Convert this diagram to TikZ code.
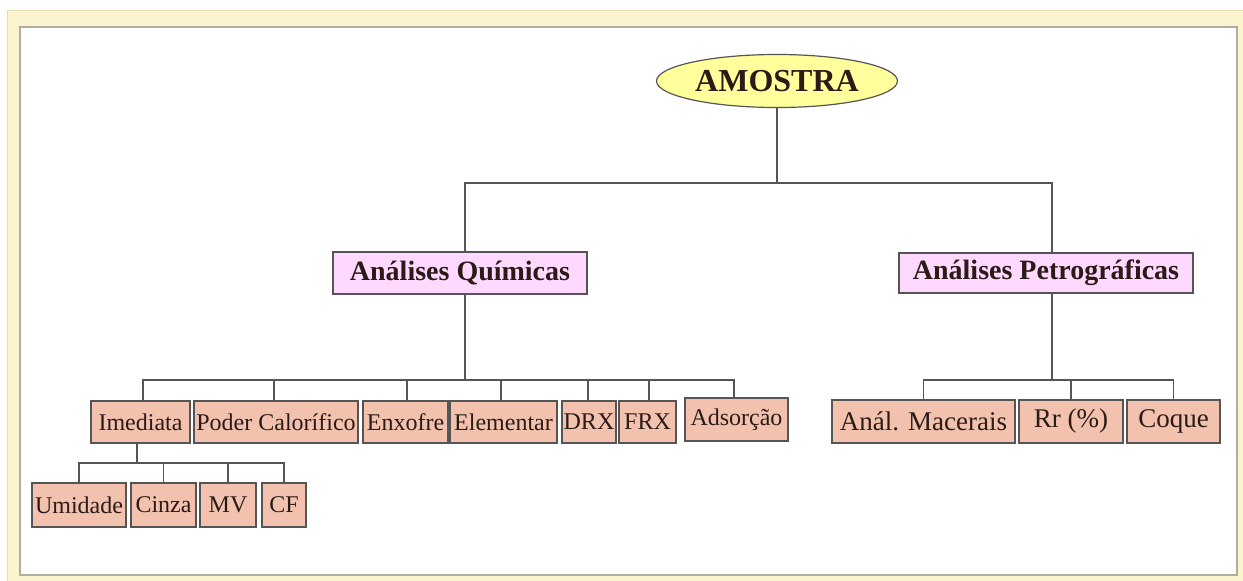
\documentclass[tikz,border=0pt]{standalone}
\usepackage{fontspec}
\setmainfont{Liberation Serif}
\usetikzlibrary{shapes.geometric}
\definecolor{cream}{HTML}{FBF4CF}
\definecolor{creamline}{HTML}{E6DDB0}
\definecolor{frameline}{HTML}{B0AE9C}
\definecolor{salmon}{HTML}{F2C2AF}
\definecolor{pinkbox}{HTML}{FFD8FF}
\definecolor{yell}{HTML}{FFFF9C}
\definecolor{ink}{HTML}{2B1B17}
\definecolor{edge}{HTML}{555555}
\tikzset{
  conn/.style={draw=edge, line width=1.5pt},
  leaf/.style={draw=edge, line width=1.2pt, fill=salmon, text=ink, inner sep=0pt,
    font=\fontsize{24}{26}\selectfont, minimum height=42pt},
  leafp/.style={leaf, font=\fontsize{27}{30}\selectfont, minimum height=43pt},
  head/.style={draw=edge, line width=1.2pt, fill=pinkbox, text=ink, inner sep=0pt,
    font=\fontsize{28}{30}\selectfont\bfseries},
  root/.style={ellipse, draw=edge, line width=1.2pt, fill=yell, text=ink, inner sep=0pt,
    font=\fontsize{32}{34}\selectfont\bfseries}
}
\begin{document}
\begin{tikzpicture}[x=1pt,y=-1pt]
\useasboundingbox (0,0) rectangle (1243,581);
% frame
\fill[white] (0,0) rectangle (1243,581);
\fill[cream] (7,10) rectangle (1243,581);
\draw[creamline, line width=1pt] (7.5,581) -- (7.5,10.5) -- (1243,10.5);
\fill[white] (20,27) rectangle (1237,575);
\draw[frameline, line width=1.5pt] (20,27) rectangle (1237,575);
% nodes
\node[root, minimum width=241pt, minimum height=53pt] (amostra) at (777,81) {AMOSTRA};
\node[head, minimum width=254pt, minimum height=42pt] (quim) at (460,273) {Análises Químicas};
\node[head, minimum width=294pt, minimum height=40pt] (petro) at (1046,273) {Análises Petrográficas};
\node[leaf, minimum width=99pt] (imed) at (140.5,422) {Imediata};
\node[leaf, minimum width=164pt] (poder) at (276,422) {Poder Calorífico};
\node[leaf, minimum width=85pt] (enx) at (405.5,422) {Enxofre};
\node[leaf, minimum width=107pt] (elem) at (503.5,422) {Elementar};
\node[leaf, minimum width=54pt] (drx) at (589,422) {DRX};
\node[leaf, minimum width=57pt] (frx) at (647.5,422) {FRX};
\node[leaf, minimum width=103pt, minimum height=43pt] (ads) at (736.5,419.5) {Adsorção};
\node[leafp, minimum width=183pt] (mac) at (923.5,421.5) {Anál. Macerais};
\node[leafp, minimum width=104pt] (rr) at (1071,421.5) {Rr (\%)};
\node[leafp, minimum width=93pt] (coq) at (1173.5,421.5) {Coque};
\node[leaf, minimum width=94pt, minimum height=44pt] (umid) at (79,505) {Umidade};
\node[leaf, minimum width=65pt, minimum height=44pt] (cinza) at (163.5,505) {Cinza};
\node[leaf, minimum width=56pt, minimum height=44pt] (mv) at (228,505) {MV};
\node[leaf, minimum width=44pt, minimum height=44pt] (cf) at (284,505) {CF};
% bar coordinates
\coordinate (b0) at (777,183);
\coordinate (b1) at (465,380);
\coordinate (b2) at (1052,380);
\coordinate (b3) at (137,463);
\coordinate (qn) at ([xshift=5pt]quim.north);
\coordinate (qs) at ([xshift=5pt]quim.south);
\coordinate (pn) at ([xshift=6pt]petro.north);
\coordinate (ps) at ([xshift=6pt]petro.south);
\coordinate (imn) at ([xshift=2.5pt]imed.north);
\coordinate (ims) at ([xshift=-3.5pt]imed.south);
\coordinate (adn) at ([xshift=-2.5pt]ads.north);
% connectors
\draw[conn] (amostra.south) -- (b0);
\draw[conn] (qn) -- (qn |- b0) -- (pn |- b0) -- (pn);
\draw[conn] (qs) -- (qs |- b1);
\draw[conn] (imn) -- (imn |- b1) -- (adn |- b1) -- (adn);
\foreach \n/\s in {poder/-2,enx/1.5,elem/-2.5,drx/-1,frx/1.5}
  \draw[conn] ([xshift=\s pt]\n.north) -- ([xshift=\s pt]\n.north |- b1);
\draw[conn] (ps) -- (ps |- b2);
\draw[conn] (mac.north) -- (mac.north |- b2) -- (coq.north |- b2) -- (coq.north);
\draw[conn] (rr.north) -- (rr.north |- b2);
\draw[conn] (ims) -- (ims |- b3);
\draw[conn] (umid.north) -- (umid.north |- b3) -- (cf.north |- b3) -- (cf.north);
\draw[conn] (cinza.north) -- (cinza.north |- b3);
\draw[conn] (mv.north) -- (mv.north |- b3);
\end{tikzpicture}
\end{document}
